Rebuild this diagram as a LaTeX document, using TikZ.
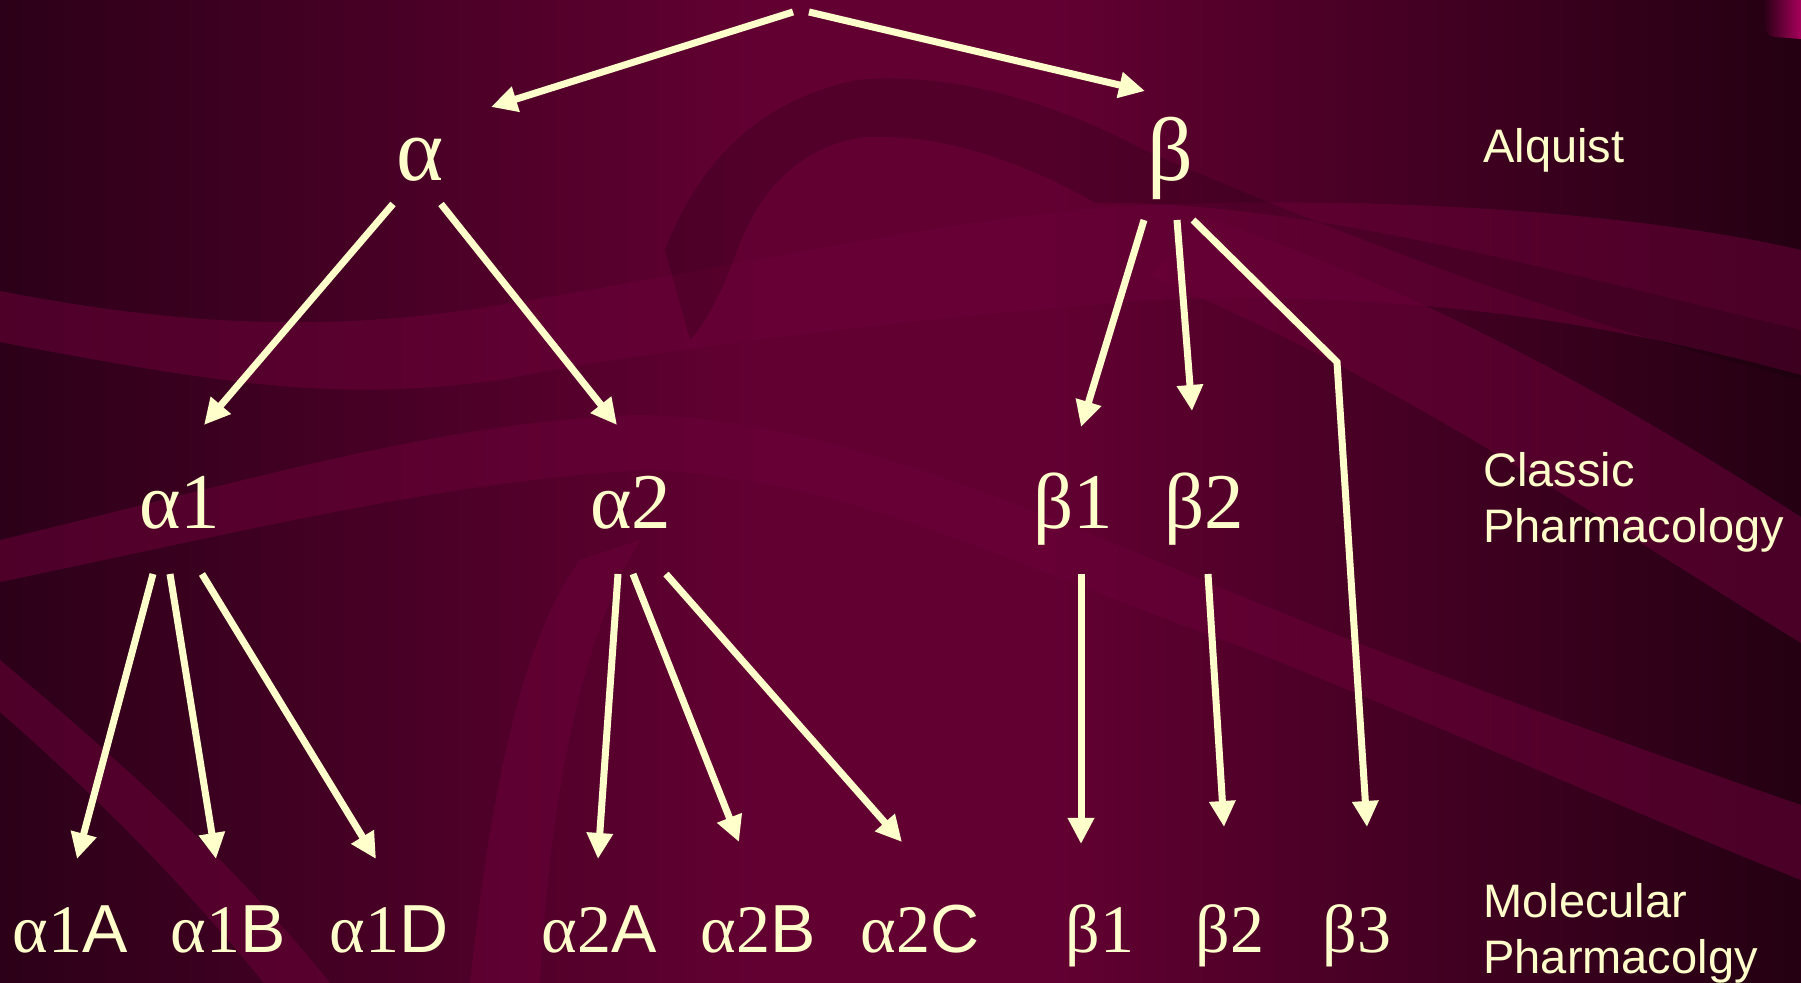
\documentclass[tikz,border=0pt]{standalone}
\usepackage{fontspec}
\setmainfont{Liberation Serif}
\newfontfamily\sansfam{Liberation Sans}
\usetikzlibrary{arrows.meta}
\definecolor{cream}{HTML}{FFFFCC}
\definecolor{wine}{HTML}{620032}
\definecolor{wineleft}{HTML}{2C0018}
\definecolor{wineright}{HTML}{240012}
\definecolor{winelight}{HTML}{6A0038}
\definecolor{pinkcorner}{HTML}{A8005C}

\begin{document}
\begin{tikzpicture}[x=0.5pt,y=-0.5pt,
  lbl/.style={text=cream, inner sep=0pt, anchor=base},
  toprow/.style={lbl, font=\fontsize{45}{50}\selectfont},
  midrow/.style={lbl, font=\fontsize{39.5}{44}\selectfont},
  lowrow/.style={lbl, font=\fontsize{34}{40}\selectfont},
  tier/.style={text=cream, inner sep=0pt, anchor=base west, align=left,
    font=\sansfam\fontsize{23.5}{28}\selectfont},
  link/.style={draw=cream, line width=3.5pt, -{Triangle[length=13pt,width=12.5pt]}},
  bandlight/.style={fill=winelight, fill opacity=0.55},
  banddark/.style={fill=black, fill opacity=0.16},
]
\useasboundingbox (0,0) rectangle (1801,983);

% background gradient
\shade[left color=wineleft, right color=wine] (0,0) rectangle (760,983);
\fill[wine] (759,0) rectangle (1051,983);
\shade[left color=wine, right color=wineright] (1050,0) rectangle (1801,983);

% ribbons
\fill[bandlight] (0,291) .. controls (200,330) and (350,330) .. (500,305)
  .. controls (750,265) and (950,215) .. (1150,205)
  .. controls (1400,195) and (1650,215) .. (1801,250)
  -- (1801,375) .. controls (1600,320) and (1400,290) .. (1150,300)
  .. controls (900,320) and (650,350) .. (500,380)
  .. controls (350,400) and (250,390) .. (0,342) -- cycle;
\fill[bandlight] (0,540) .. controls (250,480) and (450,420) .. (640,415)
  .. controls (850,420) and (1050,520) .. (1300,620)
  .. controls (1500,700) and (1700,770) .. (1801,805)
  -- (1801,880) .. controls (1650,820) and (1450,730) .. (1250,650)
  .. controls (1000,560) and (850,480) .. (650,470)
  .. controls (450,480) and (250,530) .. (0,582) -- cycle;
\fill[bandlight] (1206,218) .. controls (1450,300) and (1650,420) .. (1801,517)
  -- (1801,643) .. controls (1600,520) and (1400,380) .. (1150,276) -- cycle;
\fill[bandlight] (0,712) .. controls (100,800) and (180,880) .. (264,983)
  -- (330,983) .. controls (240,870) and (120,760) .. (0,660) -- cycle;
\fill[bandlight] (470,983) .. controls (490,800) and (520,640) .. (580,560)
  -- (640,540) .. controls (580,640) and (550,800) .. (540,983) -- cycle;
\fill[banddark] (665,250) .. controls (700,160) and (760,100) .. (857,80)
  .. controls (960,70) and (1070,110) .. (1144,150)
  .. controls (1400,260) and (1600,330) .. (1801,380)
  -- (1801,330) .. controls (1550,270) and (1300,200) .. (1096,203)
  .. controls (1000,150) and (930,135) .. (866,137)
  .. controls (800,145) and (760,190) .. (737,250)
  .. controls (720,300) and (700,330) .. (690,340) -- cycle;

% top-right corner accent
\shade[left color=wineright, right color=pinkcorner]
  (1762,0) -- (1801,0) -- (1801,39) -- (1775,37) .. controls (1766,36) and (1763,30) .. (1762,0) -- cycle;

% labels, row by row
\node[toprow] (a)  at (420,181)  {α};
\node[toprow] (b)  at (1170,181) {β};

\node[midrow] (a1) at (180,529)  {α1};
\node[midrow] (a2) at (631,529)  {α2};
\node[midrow] (b1) at (1073,529) {β1};
\node[midrow] (b2) at (1204,529) {β2};

\node[lowrow] (a1A) at (70,952)   {α1{\sansfam A}};
\node[lowrow] (a1B) at (228,952)  {α1{\sansfam B}};
\node[lowrow] (a1D) at (389,952)  {α1{\sansfam D}};
\node[lowrow] (a2A) at (599,952)  {α2{\sansfam A}};
\node[lowrow] (a2B) at (758,952)  {α2{\sansfam B}};
\node[lowrow] (a2C) at (920,952)  {α2{\sansfam C}};
\node[lowrow] (m1)  at (1100,952) {β1};
\node[lowrow] (m2)  at (1230,952) {β2};
\node[lowrow] (m3)  at (1357,952) {β3};

% tier names (base anchor sits on the last line)
\node[tier] (t1) at (1483,163) {Alquist};
\node[tier] (t2) at (1483,543) {Classic\\Pharmacology};
\node[tier] (t3) at (1483,973) {Molecular\\Pharmacolgy};

% connector end points
\coordinate (rootL) at (793,12);
\coordinate (rootR) at (809,12);
\coordinate (a-in)  at (491,107);
\coordinate (b-in)  at (1145,91);
\coordinate (a-o1)  at (393,204);
\coordinate (a-o2)  at (441,204);
\coordinate (a1-in) at (204,425);
\coordinate (a2-in) at (617,425);
\coordinate (b-o1)  at (1144,220);
\coordinate (b-o2)  at (1177,220);
\coordinate (b-o3)  at (1193,220);
\coordinate (b1-in) at (1081,427);
\coordinate (b2-in) at (1192,411);
\coordinate (b3-bend) at (1337,362);
\coordinate (m3-in) at (1367,827);
\coordinate (a1-o1) at (153,574);
\coordinate (a1-o2) at (170,574);
\coordinate (a1-o3) at (202,574);
\coordinate (a1A-in) at (77,859);
\coordinate (a1B-in) at (216,859);
\coordinate (a1D-in) at (376,859);
\coordinate (a2-o1) at (618,574);
\coordinate (a2-o2) at (633,574);
\coordinate (a2-o3) at (666,574);
\coordinate (a2A-in) at (598,859);
\coordinate (a2B-in) at (739,842);
\coordinate (a2C-in) at (902,842);
\coordinate (b1-o)  at (1081,574);
\coordinate (m1-in) at (1081,844);
\coordinate (b2-o)  at (1208,574);
\coordinate (m2-in) at (1224,827);

% connectors
\draw[link] (rootL) -- (a-in);
\draw[link] (rootR) -- (b-in);
\draw[link] (a-o1) -- (a1-in);
\draw[link] (a-o2) -- (a2-in);
\draw[link] (b-o1) -- (b1-in);
\draw[link] (b-o2) -- (b2-in);
\draw[link] (b-o3) -- (b3-bend) -- (m3-in);
\draw[link] (a1-o1) -- (a1A-in);
\draw[link] (a1-o2) -- (a1B-in);
\draw[link] (a1-o3) -- (a1D-in);
\draw[link] (a2-o1) -- (a2A-in);
\draw[link] (a2-o2) -- (a2B-in);
\draw[link] (a2-o3) -- (a2C-in);
\draw[link] (b1-o) -- (m1-in);
\draw[link] (b2-o) -- (m2-in);
\end{tikzpicture}
\end{document}
